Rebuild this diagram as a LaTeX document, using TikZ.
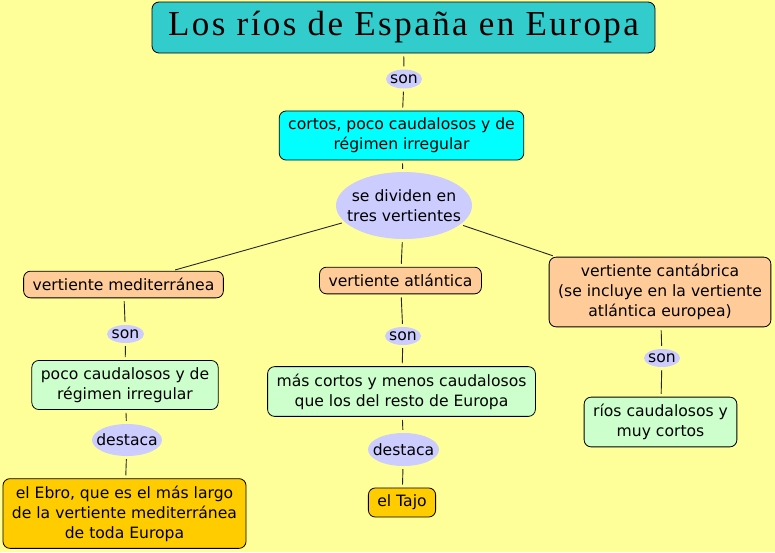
\documentclass[tikz,border=0pt]{standalone}
\usepackage{fontspec}
\setmainfont{DejaVu Sans}
\newfontfamily\titlefont[LetterSpace=7]{Liberation Serif}
\usepackage{tikz}
\usetikzlibrary{shapes.geometric}
\usepackage{xcolor}
\definecolor{fondo}{HTML}{FFFF99}
\definecolor{turquesa}{HTML}{33CCCC}
\definecolor{cian}{HTML}{00FFFF}
\definecolor{lila}{HTML}{CCCCFF}
\definecolor{salmon}{HTML}{FFCC99}
\definecolor{verde}{HTML}{CCFFCC}
\definecolor{oro}{HTML}{FFCC00}

\begin{document}
\begin{tikzpicture}[
  x=1pt, y=-1pt,
  concepto/.style={rectangle, rounded corners=7pt, draw=black, line width=0.8pt,
                   font=\fontsize{15.6}{20}\selectfont, align=center,
                   inner xsep=9pt, inner ysep=7pt},
  enlace/.style={ellipse, fill=lila, inner sep=-20pt,
                 font=\fontsize{15.6}{20}\selectfont},
  linea/.style={draw=black!85, line width=0.9pt, shorten <=3pt, shorten >=3pt}
]
  \fill[fondo] (0,0) rectangle (775,552);
  \useasboundingbox (0,0) rectangle (775,552);

  \node[concepto, fill=turquesa, minimum width=503pt, minimum height=51pt,
        font=\titlefont\fontsize{35}{38}\selectfont] (titulo) at (403.5,27.5)
    {Los ríos de España en Europa};
  \node[enlace, minimum width=36pt, minimum height=19pt] (son1) at (404,79) {son};
  \node[concepto, fill=cian] (cortos) at (401.5,135.5)
    {cortos, poco caudalosos y de\\régimen irregular};
  \node[enlace, minimum width=136pt, minimum height=67pt, align=center] (divide) at (404,205.5)
    {se dividen en\\tres vertientes};

  % vertientes
  \node[concepto, fill=salmon] (medit) at (123.5,284.5) {vertiente mediterránea};
  \node[concepto, fill=salmon] (atlan) at (400.5,280.5) {vertiente atlántica};
  \node[concepto, fill=salmon] (cantab) at (660,292)
    {vertiente cantábrica\\(se incluye en la vertiente\\atlántica europea)};

  % mediterranea
  \node[enlace, minimum width=37pt, minimum height=18pt] (sonM) at (125.5,334) {son};
  \node[concepto, fill=verde] (poco) at (125,385)
    {poco caudalosos y de\\régimen irregular};
  \node[enlace, minimum width=70pt, minimum height=32pt] (destM) at (127,440) {destaca};
  \node[concepto, fill=oro] (ebro) at (124.5,513.5)
    {el Ebro, que es el más largo\\de la vertiente mediterránea\\de toda Europa};

  % atlantica
  \node[enlace, minimum width=36pt, minimum height=18pt] (sonA) at (403,336) {son};
  \node[concepto, fill=verde] (mas) at (401.5,391.5)
    {más cortos y menos caudalosos\\que los del resto de Europa};
  \node[enlace, minimum width=71pt, minimum height=33pt] (destA) at (403.5,449.5) {destaca};
  \node[concepto, fill=oro] (tajo) at (402,502.5) {el Tajo};

  % cantabrica
  \node[enlace, minimum width=36pt, minimum height=18pt] (sonC) at (662,358) {son};
  \node[concepto, fill=verde] (rios) at (660.5,422)
    {ríos caudalosos y\\muy cortos};

  \draw[linea] (titulo) -- (son1);
  \draw[linea] (son1) -- (cortos);
  \draw[linea] (cortos) -- (divide);
  \draw[linea] (divide) -- (medit);
  \draw[linea] (divide) -- (atlan);
  \draw[linea] (divide) -- (cantab);
  \draw[linea] (medit) -- (sonM);
  \draw[linea] (sonM) -- (poco);
  \draw[linea] (poco) -- (destM);
  \draw[linea] (destM) -- (ebro);
  \draw[linea] (atlan) -- (sonA);
  \draw[linea] (sonA) -- (mas);
  \draw[linea] (mas) -- (destA);
  \draw[linea] (destA) -- (tajo);
  \draw[linea] (cantab) -- (sonC);
  \draw[linea] (sonC) -- (rios);
\end{tikzpicture}
\end{document}
